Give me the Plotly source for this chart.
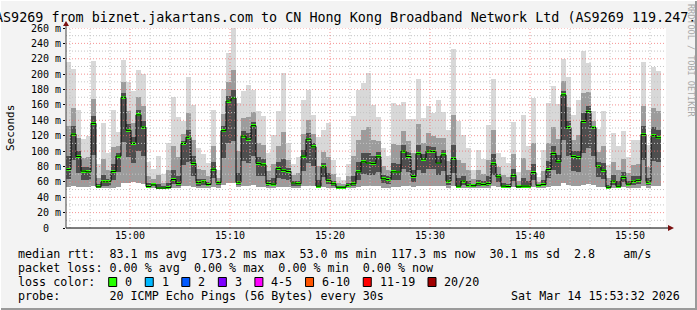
import plotly.graph_objects as go
import pandas as pd

# ---------------- data ----------------
med = [76, 122, 93, 74, 73, 136, 53.5, 60, 60, 73.5,
       93.5, 170, 127, 110, 147, 131, 54, 56, 52, 52,
       52.5, 63, 58, 110, 118, 84, 59, 60, 56.5, 76.5,
       59, 126.5, 165, 169, 59.5, 119.5, 115.5, 133, 84, 82,
       58, 57, 77.5, 75, 73.5, 58.5, 57.5, 93.5, 115.5, 105.5,
       54.5, 79.5, 62, 57.5, 53, 53, 55.5, 57.5, 73, 86,
       84.5, 84, 92.5, 64, 63, 73, 72.8, 100, 93, 67,
       96.5, 89.5, 100, 99.5, 84.5, 95, 61, 90.5, 54.5, 61,
       55.5, 55, 57.5, 56.5, 58, 83.5, 66.5, 54.5, 54, 68.5,
       53.5, 54.5, 54.5, 72, 55.5, 56.5, 76, 97, 86, 173,
       130.5, 93, 91.5, 138.5, 151.7, 130.5, 79.5, 75.2, 53, 61,
       54.3, 65.8, 57, 60.7, 62, 121.7, 59.5, 120, 117.3]

smoke_max = [216, 207, 153, 116, 120, 217, 83, 136, 97, 153,
             125, 219, 190, 178, 205, 200, 86, 77, 94, 70,
             111, 170, 144, 139, 196, 160, 104, 96.5, 85, 154,
             75, 181, 227, 260, 162, 178, 186, 179, 152, 146,
             98, 121, 152, 201, 111, 83.5, 92, 166, 180, 147,
             118, 128, 136, 89, 66, 62, 83.5, 146, 179, 189,
             201, 160, 144, 104, 94, 162, 160, 164, 142, 142,
             193.5, 143, 159, 150, 166, 151, 127, 232.6, 139, 121,
             104, 76, 101, 90, 133.5, 193.5, 98, 92, 85, 138,
             72.6, 146.5, 106.5, 169, 66, 101, 162.6, 184, 161.7, 219.6,
             196.5, 146.5, 166, 230, 214, 152, 129, 152, 82, 123.5,
             106.5, 125.6, 92, 114, 114, 216, 108, 209.7, 204]

smoke_min = [53, 55, 53, 53, 53, 55, 52, 52, 52, 52,
             53, 58, 58, 60, 58, 57, 52, 52, 51, 51,
             51, 52, 52, 55, 55, 53, 52, 52, 52, 53,
             52, 56, 58, 58, 53, 55, 55, 56, 53, 53,
             52, 52, 53, 53, 53, 52, 52, 54, 55, 54,
             52, 53, 52, 52, 51.5, 51.5, 52, 52, 53, 54,
             54, 54, 54, 52, 52, 53, 53, 54, 54, 53,
             54, 54, 54, 54, 54, 54, 52, 54, 52, 52,
             52, 52, 52, 52, 52, 54, 53, 52, 52, 53,
             52, 52, 52, 53, 52, 52, 53, 54, 54, 58,
             56, 54, 54, 56, 57, 56, 53, 53, 51.5, 52,
             52, 53, 52, 52, 52, 55, 52, 55, 55]

band_hi = [132, 156, 117, 91, 92, 168, 65, 90, 75, 105,
           106, 190, 152, 137, 170, 159, 67, 64, 69, 59,
           76, 106, 92, 122, 149, 114, 77, 75, 68, 107,
           65, 148, 190, 205, 100, 143, 144, 151, 111, 108,
           74, 83, 107, 125, 88, 68.5, 71, 122, 141, 122,
           80, 99, 92, 70, 58, 57, 67, 93, 115, 127,
           131, 114, 113, 80, 75, 109, 108, 126, 113, 97,
           135, 111, 124, 120, 117, 117, 87, 147, 88, 85,
           75, 63.5, 75, 70, 88, 127.5, 79, 69.5, 66.5, 96,
           61, 91, 75, 111, 60, 74, 111, 131.5, 116, 191.5,
           157, 114.5, 121, 175, 176.5, 139, 99, 106, 64.5, 86,
           75, 90, 71, 82, 83, 159, 79, 156, 152]

core_lo = [64, 88, 72, 63, 62, 95, 52.5, 55, 55, 62,
           73, 112, 92, 85, 100, 94, 53, 54, 51.5, 51.5,
           51.7, 57, 55, 82, 86, 68, 55, 56, 54, 65,
           55.5, 91, 111, 113, 56, 87, 85, 94, 68, 67,
           55, 54.5, 65, 64, 63, 55, 55, 74, 85, 80,
           53, 66, 57, 55, 52, 52, 54, 55, 63, 70,
           69, 69, 73, 58, 57.5, 63, 63, 77, 73, 60,
           75, 72, 77, 77, 69, 74.5, 56.5, 72, 53, 56.5,
           54, 53.5, 55, 54, 55, 69, 60, 53, 53, 61,
           52.7, 53, 53, 62.5, 54, 54, 64.5, 75, 70, 115,
           93, 73.5, 73, 97, 104, 93, 66, 64, 52, 56.5,
           53, 59.5, 54.5, 56, 57, 88, 56, 87.5, 86]

core_hi = [93, 132, 100, 79, 79, 146, 57, 69, 64, 83,
           97, 176, 135, 118, 154, 139, 58, 58.5, 57, 54,
           59, 76, 68, 113, 127, 93, 64, 64, 60, 86,
           61, 133, 172, 180, 72, 126, 124, 138, 92, 90,
           63, 65, 86, 90, 78, 61.5, 61.5, 102, 123, 110,
           62, 85, 71, 61, 54.5, 54, 59, 68, 86, 98,
           98, 93, 99, 69, 67, 84, 83, 108, 99, 76,
           108, 96, 107, 105.5, 94, 102, 69, 107.5, 64.5, 68,
           61, 57.5, 62.5, 60.5, 67, 96.5, 70, 59, 57.5, 77,
           56, 65.5, 61, 83.5, 57, 62, 86.5, 107, 95, 178.5,
           138.5, 99.5, 100.5, 149.5, 159, 133, 85.5, 84.5, 56.5, 68.5,
           60.5, 73, 61, 67, 68, 133, 65, 131, 128]

y_ticks = list(range(0, 261, 20))
y_tick_labels = ["0\u00a0\u00a0"] + ["%d m" % v for v in y_ticks[1:]]
x_tick_labels = ["15:00", "15:10", "15:20", "15:30", "15:40", "15:50"]

loss_labels = ["0", "1", "2", "3", "4-5", "6-10", "11-19", "20/20"]
loss_colors = ["#26ff00", "#00b8ff", "#0059ff", "#7e00ff", "#ff00ff",
               "#ff5500", "#ff0000", "#a10000"]

title_text = "AS9269 from biznet.jakartans.com to CN Hong Kong Broadband Network Ltd (AS9269 119.247.2"
legend_rows = [
    "median rtt:  83.1 ms avg  173.2 ms max  53.0 ms min  117.3 ms now  30.1 ms sd  2.8    am/s",
    "packet loss: 0.00 % avg  0.00 % max  0.00 % min  0.00 % now",
    "loss color:",
    "probe:       20 ICMP Echo Pings (56 Bytes) every 30s",
]
stamp = "Sat Mar 14 15:53:32 2026"

n = len(med)
for arr in (smoke_max, smoke_min, band_hi, core_lo, core_hi):
    assert len(arr) == n, len(arr)

# ---------------- geometry ----------------
W, H = 697, 310
L, R, T, B = 66, 31, 28, 82
PW, PH = W - L - R, H - T - B
MONO = "DejaVu Sans Mono"

def px(x):
    return (x - L) / PW

def py(y):
    return (H - B - y) / PH

t0 = pd.Timestamp("2026-03-14 14:53:36")
step = pd.Timedelta(seconds=30)
t_end = t0 + pd.Timedelta(hours=1)
left_edges = [t0 + step * k for k in range(n)]
centers = [t + step / 2 for t in left_edges]
BW = 30000

fig = go.Figure()

def band(lo_arr, hi_arr, color):
    fig.add_trace(go.Bar(
        x=centers, base=lo_arr, y=[h - l for h, l in zip(hi_arr, lo_arr)],
        width=BW, marker=dict(color=color, line=dict(width=0)),
        hoverinfo="skip", showlegend=False))

band(smoke_min, smoke_max, "#d8d8d8")
band(smoke_min, band_hi, "#9c9c9c")
band(core_lo, core_hi, "#4e4e4e")

# median step line
fig.add_trace(go.Scatter(
    x=left_edges + [left_edges[-1] + step], y=med + [med[-1]],
    mode="lines", line=dict(color="#000000", width=1, shape="hv"),
    hoverinfo="skip", showlegend=False))

# loss-coloured median marks
fig.add_trace(go.Bar(
    x=centers, base=[m - 1.9 for m in med], y=[3.8] * n, width=BW,
    marker=dict(color=loss_colors[0], line=dict(width=0)),
    hoverinfo="skip", showlegend=False))

shapes = []
# grid lines (drawn over the data, like rrdtool)
for v in range(10, 261, 10):
    major = v % 20 == 0
    shapes.append(dict(type="line", xref="paper", yref="y", x0=0, x1=1, y0=v, y1=v,
                       layer="above",
                       line=dict(color="rgba(240,110,110,0.75)" if major else "#c4c4c4",
                                 width=1, dash="1px,2px")))
g = pd.Timestamp("2026-03-14 14:54:00")
while g < t_end:
    major = g.minute % 10 == 0
    shapes.append(dict(type="line", xref="x", yref="paper", x0=g, x1=g, y0=0, y1=1,
                       layer="above",
                       line=dict(color="rgba(240,110,110,0.75)" if major else "#c4c4c4",
                                 width=1, dash="1px,2px")))
    g += pd.Timedelta(minutes=2)

# axes with arrows
shapes.append(dict(type="line", xref="paper", yref="paper", x0=px(66), x1=px(670),
                   y0=py(228), y1=py(228), layer="above", line=dict(color="#000", width=1)))
shapes.append(dict(type="line", xref="paper", yref="paper", x0=px(66), x1=px(66),
                   y0=py(228), y1=py(25), layer="above", line=dict(color="#404040", width=1)))
shapes.append(dict(type="path", xref="paper", yref="paper", layer="above",
                   path="M %f %f L %f %f L %f %f Z" % (px(668), py(225), px(674), py(228), px(668), py(231)),
                   fillcolor="#7a1010", line=dict(width=0)))
shapes.append(dict(type="path", xref="paper", yref="paper", layer="above",
                   path="M %f %f L %f %f L %f %f Z" % (px(63), py(26), px(66), py(21), px(69), py(26)),
                   fillcolor="#7a1010", line=dict(width=0)))
# frame
shapes.append(dict(type="line", xref="paper", yref="paper", x0=px(0), x1=px(W),
                   y0=py(H - 1), y1=py(H - 1), line=dict(color="#9a9a9a", width=2)))
shapes.append(dict(type="line", xref="paper", yref="paper", x0=px(W - 1), x1=px(W - 1),
                   y0=py(0), y1=py(H), line=dict(color="#9a9a9a", width=2)))
shapes.append(dict(type="line", xref="paper", yref="paper", x0=px(0), x1=px(W),
                   y0=py(0.5), y1=py(0.5), line=dict(color="#ffffff", width=1)))
shapes.append(dict(type="line", xref="paper", yref="paper", x0=px(0.5), x1=px(0.5),
                   y0=py(0), y1=py(H), line=dict(color="#ffffff", width=1)))

annotations = []

def text(x, y, s, size=11.7, anchor="left", color="#000000", angle=0):
    annotations.append(dict(xref="paper", yref="paper", x=px(x), y=py(y),
                            xanchor=anchor, yanchor="middle", showarrow=False,
                            text=s.replace(" ", "\u00a0"), textangle=angle,
                            font=dict(family=MONO, size=size, color=color)))

text(-7, 18, title_text, size=13.4)
text(10, 128, "Seconds", size=11, anchor="center", angle=-90)
text(691, 60, "RRDTOOL / TOBI OETIKER", size=8.5, anchor="center", color="#a8a8a8", angle=90)

row_y = [254, 268, 282, 296]
for s, y in zip(legend_rows, row_y):
    text(16, y, s)
text(682, row_y[3], stamp, anchor="right")

bx = 108.7
for lab, col in zip(loss_labels, loss_colors):
    shapes.append(dict(type="rect", xref="paper", yref="paper",
                       x0=px(bx), x1=px(bx + 8), y0=py(277.5), y1=py(286.5),
                       fillcolor=col, line=dict(color="#000000", width=1)))
    text(bx + 14.5, row_y[2], lab)
    bx += 29.5 + len(lab) * 7.05

fig.update_layout(
    width=W, height=H,
    margin=dict(l=L, r=R, t=T, b=B, pad=0),
    paper_bgcolor="#f3f3f3", plot_bgcolor="#ffffff",
    barmode="overlay", bargap=0,
    showlegend=False,
    shapes=shapes, annotations=annotations,
    xaxis=dict(type="date", range=[t0, t_end], showgrid=False, zeroline=False,
               showline=False,
               tickvals=[pd.Timestamp("2026-03-14 " + s) for s in x_tick_labels],
               ticktext=x_tick_labels, ticks="", ticklen=0,
               tickfont=dict(family=MONO, size=10, color="#000")),
    yaxis=dict(range=[0, 260], showgrid=False, zeroline=False, showline=False,
               tickvals=y_ticks, ticktext=y_tick_labels, ticks="outside", ticklen=2,
               tickcolor="#000", tickfont=dict(family=MONO, size=10, color="#000")),
)

fig.write_html("out.html")
